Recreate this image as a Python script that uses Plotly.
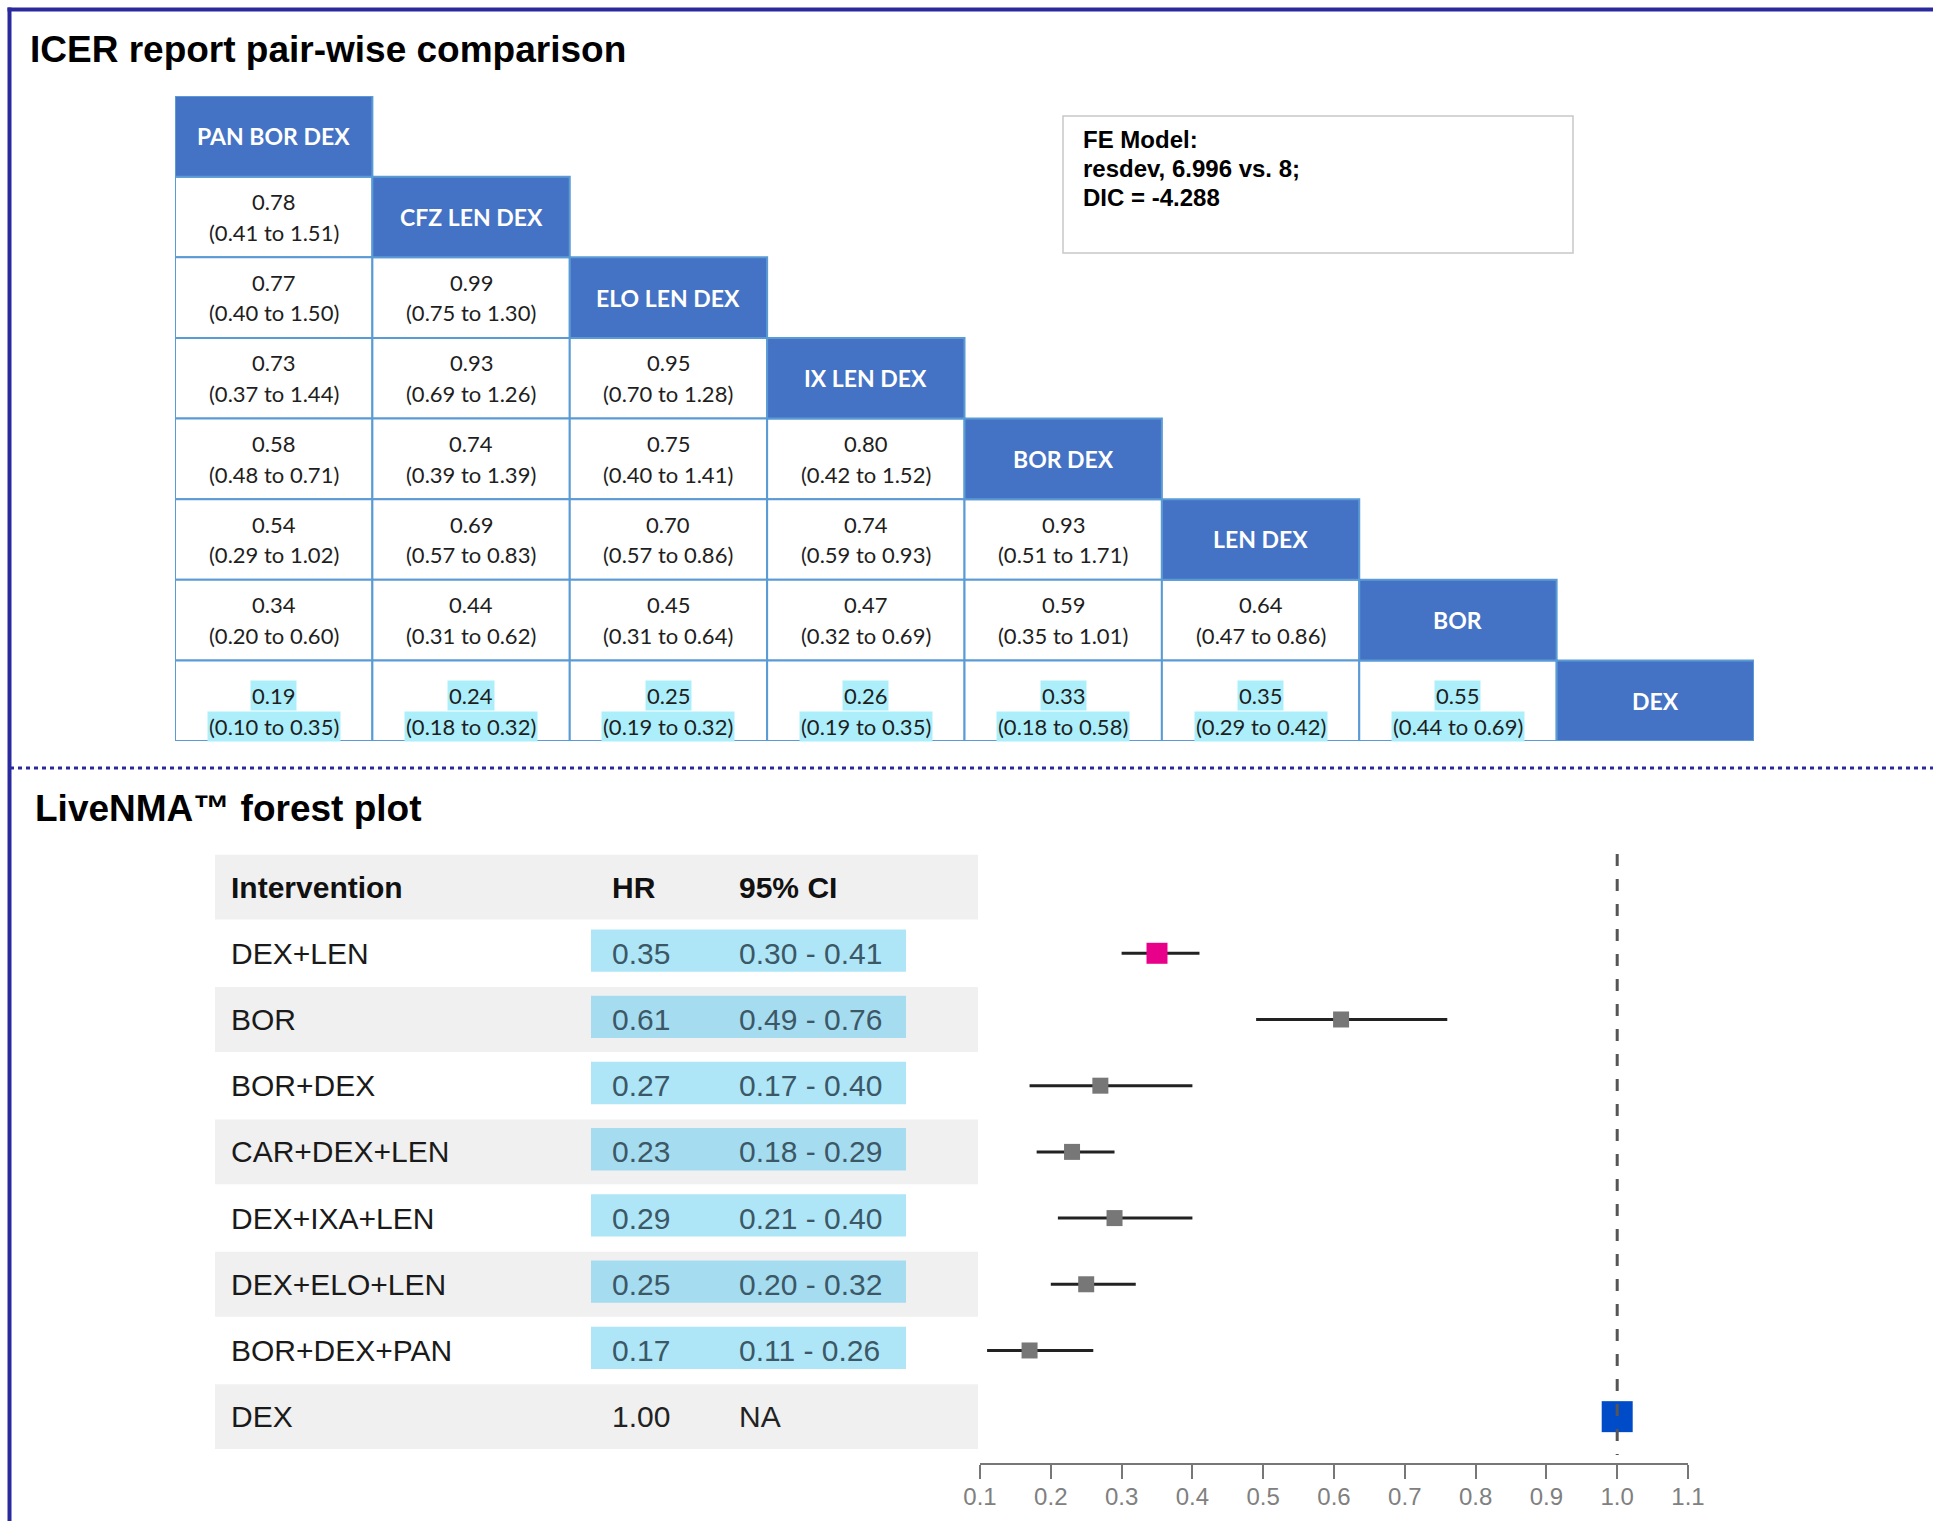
import plotly.graph_objects as go

# ---------------- ICER pair-wise comparison matrix ----------------
icer_labels = ["PAN BOR DEX", "CFZ LEN DEX", "ELO LEN DEX", "IX LEN DEX",
               "BOR DEX", "LEN DEX", "BOR", "DEX"]

# lower-triangle estimates, row i holds comparisons with columns 0..i-1
icer_point = [
    [],
    [0.78],
    [0.77, 0.99],
    [0.73, 0.93, 0.95],
    [0.58, 0.74, 0.75, 0.80],
    [0.54, 0.69, 0.70, 0.74, 0.93],
    [0.34, 0.44, 0.45, 0.47, 0.59, 0.64],
    [0.19, 0.24, 0.25, 0.26, 0.33, 0.35, 0.55],
]
icer_lower = [
    [],
    [0.41],
    [0.40, 0.75],
    [0.37, 0.69, 0.70],
    [0.48, 0.39, 0.40, 0.42],
    [0.29, 0.57, 0.57, 0.59, 0.51],
    [0.20, 0.31, 0.31, 0.32, 0.35, 0.47],
    [0.10, 0.18, 0.19, 0.19, 0.18, 0.29, 0.44],
]
icer_upper = [
    [],
    [1.51],
    [1.50, 1.30],
    [1.44, 1.26, 1.28],
    [0.71, 1.39, 1.41, 1.52],
    [1.02, 0.83, 0.86, 0.93, 1.71],
    [0.60, 0.62, 0.64, 0.69, 1.01, 0.86],
    [0.35, 0.32, 0.32, 0.35, 0.58, 0.42, 0.69],
]
highlight_row = 7

fe_model_lines = ["FE Model:", "resdev, 6.996 vs. 8;", "DIC = -4.288"]

# ---------------- LiveNMA forest plot ----------------
interventions = ["DEX+LEN", "BOR", "BOR+DEX", "CAR+DEX+LEN", "DEX+IXA+LEN",
                 "DEX+ELO+LEN", "BOR+DEX+PAN", "DEX"]
hr = [0.35, 0.61, 0.27, 0.23, 0.29, 0.25, 0.17, 1.00]
ci_low = [0.30, 0.49, 0.17, 0.18, 0.21, 0.20, 0.11, None]
ci_high = [0.41, 0.76, 0.40, 0.29, 0.40, 0.32, 0.26, None]
x_ticks = [0.1, 0.2, 0.3, 0.4, 0.5, 0.6, 0.7, 0.8, 0.9, 1.0, 1.1]
reference_hr = 1.0

W, H = 1933, 1521
SANS = "Liberation Sans, Arial, sans-serif"
CAL = "Lato, Carlito, Calibri, sans-serif"
NAVY = "#2A2A9E"
CELL_BLUE = "#4472C4"
CELL_EDGE = "#5B9BD5"

fig = go.Figure()

# invisible anchors so every subplot gets created
fig.add_trace(go.Scatter(x=[None], y=[None], xaxis="x", yaxis="y",
                         showlegend=False, hoverinfo="skip"))
fig.add_trace(go.Scatter(x=[None], y=[None], xaxis="x3", yaxis="y3",
                         showlegend=False, hoverinfo="skip"))

shapes = []
ann = []

# page frame and section divider
shapes.append(dict(type="line", xref="x", yref="y", x0=9.5, x1=9.5, y0=7.5, y1=H,
                   line=dict(color=NAVY, width=4)))
shapes.append(dict(type="line", xref="x", yref="y", x0=7.5, x1=W, y0=9.5, y1=9.5,
                   line=dict(color=NAVY, width=4)))
shapes.append(dict(type="line", xref="x", yref="y", x0=10, x1=W, y0=768, y1=768,
                   line=dict(color=NAVY, width=3, dash="4px,4px")))

ann.append(dict(xref="x", yref="y", x=28, y=49, text="<b>ICER report pair-wise comparison</b>",
                showarrow=False, xanchor="left", yanchor="middle",
                font=dict(family=SANS, size=37, color="#000")))
ann.append(dict(xref="x", yref="y", x=33, y=808, text="<b>LiveNMA™ forest plot</b>",
                showarrow=False, xanchor="left", yanchor="middle",
                font=dict(family=SANS, size=37, color="#000")))

# ---- matrix cells (axis x3/y3, one unit per cell) ----
n = len(icer_labels)
for i in range(n):
    for j, (v, lo, hi) in enumerate(zip(icer_point[i], icer_lower[i], icer_upper[i])):
        shapes.append(dict(type="rect", xref="x3", yref="y3", x0=j, x1=j + 1, y0=i, y1=i + 1,
                           fillcolor="white", line=dict(color=CELL_EDGE, width=2), layer="below"))
        hl = (i == highlight_row)
        off = 0.13 if hl else 0.0
        bg = "#ACEFFB" if hl else None
        ann.append(dict(xref="x3", yref="y3", x=j + 0.5, y=i + 0.5 - 0.19 + off,
                        text=f"{v:.2f}", showarrow=False, bgcolor=bg, borderpad=1,
                        font=dict(family=CAL, size=22, color="#1e1e1e")))
        ann.append(dict(xref="x3", yref="y3", x=j + 0.5, y=i + 0.5 + 0.19 + off,
                        text=f"({lo:.2f} to {hi:.2f})", showarrow=False, bgcolor=bg, borderpad=1,
                        font=dict(family=CAL, size=22, color="#1e1e1e")))
for i, lab in enumerate(icer_labels):
    shapes.append(dict(type="rect", xref="x3", yref="y3", x0=i, x1=i + 1, y0=i, y1=i + 1,
                       fillcolor=CELL_BLUE, line=dict(color=CELL_EDGE, width=2), layer="below"))
    ann.append(dict(xref="x3", yref="y3", x=i + 0.5, y=i + 0.5, text=f"<b>{lab}</b>",
                    showarrow=False, font=dict(family=CAL, size=23, color="white")))

# model fit box
shapes.append(dict(type="rect", xref="x", yref="y", x0=1063, x1=1573, y0=116, y1=253,
                   fillcolor="white", line=dict(color="#C8C8C8", width=1.5)))
for k, line in enumerate(fe_model_lines):
    ann.append(dict(xref="x", yref="y", x=1081, y=139 + 29 * k, text=f"<b>{line}</b>",
                    showarrow=False, xanchor="left", yanchor="middle",
                    font=dict(family=SANS, size=24, color="#000")))

# ---- forest table (rows on y2, header at -1) ----
TABLE_X0, TABLE_X1 = 215, 978
COL_NAME, COL_HR, COL_CI = 229, 610, 737
for k in [-1, 1, 3, 5, 7]:
    shapes.append(dict(type="rect", xref="x", yref="y2", x0=TABLE_X0, x1=TABLE_X1,
                       y0=k - 0.49, y1=k + 0.49, fillcolor="#F0F0F0", line=dict(width=0),
                       layer="below"))
for txt, xx in [("Intervention", COL_NAME), ("HR", COL_HR), ("95% CI", COL_CI)]:
    ann.append(dict(xref="x", yref="y2", x=xx, y=-1, text=f"<b>{txt}</b>", showarrow=False,
                    xanchor="left", yanchor="middle",
                    font=dict(family=SANS, size=30, color="#111")))

for k, (name, h, lo, hi) in enumerate(zip(interventions, hr, ci_low, ci_high)):
    has_ci = lo is not None
    if has_ci:
        shapes.append(dict(type="rect", xref="x", yref="y2", x0=591, x1=906,
                           y0=k - 0.36, y1=k + 0.28,
                           fillcolor="#A6DCF0" if k % 2 else "#AEE6F8",
                           line=dict(width=0), layer="below"))
    val_color = "#3C5866" if has_ci else "#222"
    ann.append(dict(xref="x", yref="y2", x=COL_NAME, y=k, text=name, showarrow=False,
                    xanchor="left", yanchor="middle",
                    font=dict(family=SANS, size=30, color="#1a1a1a")))
    ann.append(dict(xref="x", yref="y2", x=COL_HR, y=k, text=f"{h:.2f}", showarrow=False,
                    xanchor="left", yanchor="middle",
                    font=dict(family=SANS, size=30, color=val_color)))
    ci_txt = f"{lo:.2f} - {hi:.2f}" if has_ci else "NA"
    ann.append(dict(xref="x", yref="y2", x=COL_CI, y=k, text=ci_txt, showarrow=False,
                    xanchor="left", yanchor="middle",
                    font=dict(family=SANS, size=30, color=val_color)))

# reference line at HR = 1
shapes.append(dict(type="line", xref="x2", yref="y2", x0=reference_hr, x1=reference_hr,
                   y0=-1.5, y1=7.58, layer="above",
                   line=dict(color="#555", width=3, dash="12px,13px")))

# forest markers with confidence intervals
err_plus = [(b - a) if b is not None else 0 for a, b in zip(hr, ci_high)]
err_minus = [(a - b) if b is not None else 0 for a, b in zip(hr, ci_low)]
m_colors = ["#E8008A"] + ["#777777"] * 6 + ["#004CC8"]
m_sizes = [21] + [16] * 6 + [31]
fig.add_trace(go.Scatter(
    x=hr, y=list(range(len(hr))), xaxis="x2", yaxis="y2", mode="markers",
    marker=dict(symbol="square", size=m_sizes, color=m_colors, opacity=1, line=dict(width=0)),
    error_x=dict(type="data", symmetric=False, array=err_plus, arrayminus=err_minus,
                 color="#222", thickness=3, width=0),
    showlegend=False, hoverinfo="skip"))

hidden = dict(visible=False, fixedrange=True, automargin=False, showgrid=False, zeroline=False)
fig.update_layout(
    template="none",
    width=W, height=H, margin=dict(l=0, r=0, t=0, b=0, pad=0, autoexpand=False),
    paper_bgcolor="white", plot_bgcolor="rgba(0,0,0,0)",
    shapes=shapes, annotations=ann,
    xaxis=dict(domain=[0, 1], range=[0, W], **hidden),
    yaxis=dict(domain=[0, 1], range=[H, 0], **hidden),
    xaxis2=dict(domain=[980 / W, 1688 / W], range=[0.1, 1.1], anchor="y2",
                showline=True, linecolor="#777", linewidth=2, showgrid=False, zeroline=False,
                ticks="outside", ticklen=14, tickwidth=2, tickcolor="#777",
                tickvals=x_ticks, ticktext=[f"{t:.1f}" for t in x_ticks],
                ticklabelstandoff=-3, automargin=False,
                tickfont=dict(family=SANS, size=24, color="#808080"), fixedrange=True),
    yaxis2=dict(domain=[1 - 1463 / H, 1 - 854 / H], range=[7.70, -1.50], anchor="x2", **hidden),
    xaxis3=dict(domain=[175 / W, 1754 / W], range=[0, 8], anchor="y3", **hidden),
    yaxis3=dict(domain=[1 - 741 / H, 1 - 96 / H], range=[8, 0], anchor="x3", **hidden),
)

fig.write_html("out.html")
